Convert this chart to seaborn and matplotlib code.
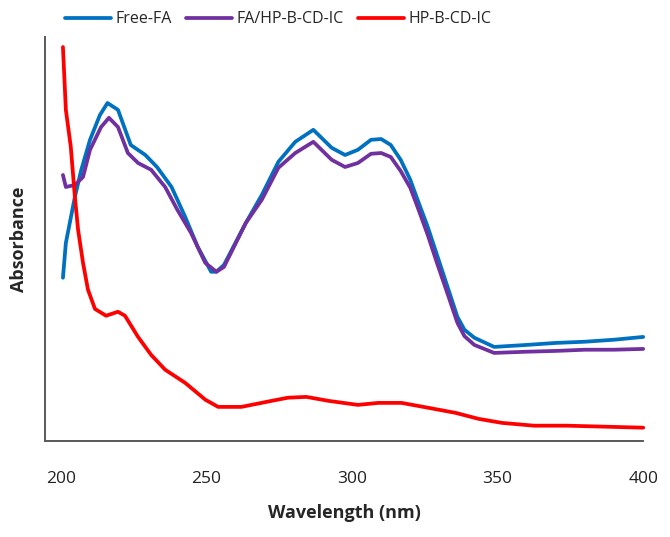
import matplotlib
matplotlib.use("Agg")
import matplotlib.pyplot as plt
import seaborn as sns
import pandas as pd

# Free-FA (blue)
free_wl = [200.7, 201.7, 204.8, 207, 210, 213.4, 216, 219.6, 224, 229, 233, 238, 242.7, 247,
           251.6, 253.4, 256, 263.5, 269, 274.7, 280.5, 286.7, 293, 297.6, 302, 306.5, 310,
           313.3, 316.7, 320, 322.5, 326, 329.4, 332.8, 336.2, 338.6, 342, 348.8, 360, 370,
           380, 390, 400]
free_abs = [0.408, 0.495, 0.610, 0.678, 0.753, 0.815, 0.845, 0.828, 0.740, 0.715, 0.685, 0.635,
            0.560, 0.485, 0.423, 0.423, 0.440, 0.545, 0.615, 0.698, 0.748, 0.778, 0.733, 0.715,
            0.728, 0.753, 0.755, 0.740, 0.703, 0.653, 0.603, 0.535, 0.460, 0.385, 0.310, 0.278,
            0.258, 0.235, 0.240, 0.245, 0.248, 0.253, 0.260]

# FA/HP-B-CD-IC (purple)
ic_wl = [200.7, 201.7, 204.8, 207.6, 210, 213.8, 216.5, 219.6, 223, 226.5, 231, 235.8, 240,
         244.7, 249.6, 253.4, 256, 263.5, 269, 274.7, 280.5, 286.7, 293, 297.6, 302, 306.5,
         310, 313.3, 316.7, 320, 322.5, 326, 329.4, 332.8, 336.2, 338.6, 342, 348.8, 360, 370,
         380, 390, 400]
ic_abs = [0.665, 0.635, 0.640, 0.660, 0.728, 0.785, 0.808, 0.785, 0.720, 0.695, 0.678, 0.635,
          0.578, 0.520, 0.445, 0.423, 0.435, 0.545, 0.603, 0.683, 0.720, 0.748, 0.703, 0.685,
          0.695, 0.718, 0.720, 0.710, 0.675, 0.633, 0.585, 0.515, 0.440, 0.368, 0.295, 0.262,
          0.240, 0.220, 0.223, 0.225, 0.228, 0.228, 0.230]

# HP-B-CD-IC (red)
cd_wl = [200.7, 201.7, 203.4, 204.8, 205.9, 207.6, 209.3, 211.7, 215.5, 219.6, 222, 226.5, 231,
         235.8, 242.7, 249.6, 254, 262, 272.3, 278, 284.3, 292, 302, 309, 317, 326, 335.6,
         343.5, 351.5, 362.5, 373.8, 400]
cd_abs = [0.985, 0.828, 0.735, 0.610, 0.528, 0.445, 0.378, 0.330, 0.313, 0.323, 0.313, 0.260,
          0.215, 0.178, 0.145, 0.103, 0.085, 0.085, 0.100, 0.108, 0.110, 0.100, 0.090, 0.095,
          0.095, 0.083, 0.070, 0.055, 0.045, 0.038, 0.038, 0.033]

labels = ["Free-FA", "FA/HP-B-CD-IC", "HP-B-CD-IC"]
colors = ["#0070C0", "#7030A0", "#FF0000"]

df = pd.concat([
    pd.DataFrame({"wl": free_wl, "abs": free_abs, "sample": labels[0]}),
    pd.DataFrame({"wl": ic_wl, "abs": ic_abs, "sample": labels[1]}),
    pd.DataFrame({"wl": cd_wl, "abs": cd_abs, "sample": labels[2]}),
])

sns.set_style("white")
plt.rcParams["font.family"] = ["Open Sans", "DejaVu Sans"]

fig = plt.figure(figsize=(6.7, 5.37), dpi=100)
ax = fig.add_axes([0.067, 0.179, 0.893, 0.752])

sns.lineplot(data=df, x="wl", y="abs", hue="sample", palette=dict(zip(labels, colors)),
             estimator=None, sort=False, linewidth=2.7, ax=ax, legend=False)
for ln in ax.lines:
    ln.set_clip_on(False)

ax.set_xlim(194.5, 398.6)
ax.set_ylim(0, 1.01)
ax.set_xticks([200, 250, 300, 350, 400])
ax.set_yticks([])
ax.tick_params(axis="x", length=0, pad=22, labelsize=12.5, colors="#222222")
for s in ["top", "right"]:
    ax.spines[s].set_visible(False)
for s in ["left", "bottom"]:
    ax.spines[s].set_color("#595959")
    ax.spines[s].set_linewidth(1.4)

ax.set_xlabel("Wavelength (nm)", fontsize=13, fontweight="bold", labelpad=12)
ax.set_ylabel("Absorbance", fontsize=13, fontweight="bold", labelpad=12)

handles = [plt.Line2D([], [], color=c, lw=2.7) for c in colors]
fig.legend(handles, labels, loc="center", bbox_to_anchor=(0.415, 0.964), ncol=3,
           frameon=False, fontsize=11.5, handlelength=2.9, handletextpad=0.25,
           columnspacing=0.9)

fig.savefig("out.png", dpi=100)
